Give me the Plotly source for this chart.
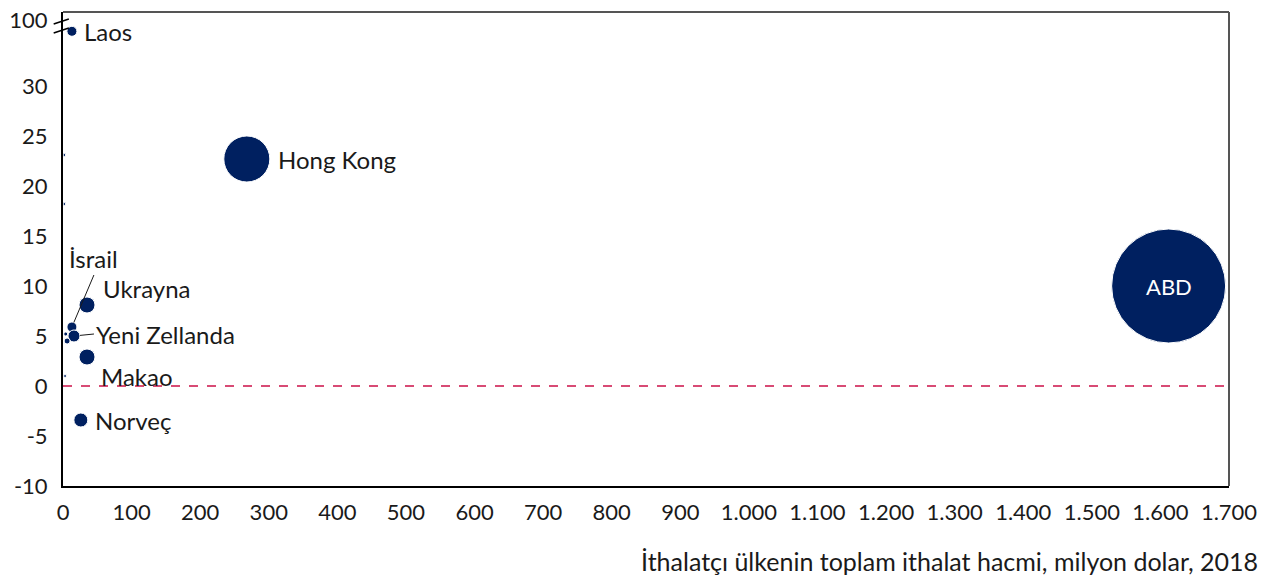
import plotly.graph_objects as go

# Ülke verileri (ithalat hacmi milyon $, büyüme %, balon değeri)
ulkeler = ["ABD", "Hong Kong", "Laos", "Ukrayna", "Makao", "Norveç", "İsrail",
           "Yeni Zellanda", "", "", "", "", "", "", ""]
ithalat = [1612, 268, 13, 35, 35, 26, 13, 16, 6, 4, 3, 2, 2, 1, 1]
degisim = [10.0, 22.7, 88.0, 8.1, 2.9, -3.4, 5.9, 5.0, 4.5, 5.2, 1.0, 23.1, 18.2, 30.0, -7.6]
balon = [325, 53, 2.5, 6.4, 6.4, 4.9, 2.5, 3.6, 0.9, 0.4, 0.22, 0.2, 0.2, 0.0, 0.0]

x_ticks = list(range(0, 1800, 100))
y_ticks = [-10, -5, 0, 5, 10, 15, 20, 25, 30, 100]

# y ekseni 30'dan sonra kırılıyor: 30-100 arası sıkıştırılıyor
KIRIK = 30
USTE = 6.6


def kir(v):
    return v if v <= KIRIK else KIRIK + (v - KIRIK) * USTE / (100 - KIRIK)


LACIVERT = "#002060"
FONT = "Lato, 'Open Sans', sans-serif"
YAZI = "#1a1a1a"

y_goster = [kir(v) for v in degisim]
sizeref = 2 * max(balon) / 114 ** 2

fig = go.Figure()
fig.add_trace(go.Scatter(
    x=ithalat, y=y_goster, mode="markers",
    marker=dict(size=balon, sizemode="area", sizeref=sizeref, sizemin=0, opacity=1,
                color=LACIVERT, line=dict(color="white", width=1)),
    hoverinfo="skip", showlegend=False, cliponaxis=False,
))

# sıfır çizgisi
fig.add_shape(type="line", xref="paper", x0=0, x1=1, yref="y", y0=0, y1=0,
              line=dict(color="#cc1148", width=1.6, dash="dash"))
# üst ve sağ çerçeve
fig.add_shape(type="line", xref="paper", x0=0, x1=1, yref="paper", y0=1, y1=1,
              line=dict(color="#555555", width=2))
fig.add_shape(type="line", xref="paper", x0=1, x1=1, yref="paper", y0=0, y1=1,
              line=dict(color="#555555", width=2))
# eksen kırığı işareti
for dy in (0, 0.9):
    fig.add_shape(type="line", xref="paper", yref="y",
                  x0=-0.008, x1=0.005, y0=35.3 + dy, y1=35.8 + dy,
                  line=dict(color="black", width=1.5))

lbl = dict(family=FONT, size=24, color=YAZI)


def etiket(i, xshift=0, yshift=0, **kw):
    fig.add_annotation(x=ithalat[i], y=y_goster[i], text=ulkeler[i], showarrow=False,
                       xanchor=kw.pop("xanchor", "left"), yanchor="middle",
                       xshift=xshift, yshift=yshift, font=kw.pop("font", lbl), **kw)


etiket(0, xanchor="center", font=dict(family=FONT, size=22, color="white"))
etiket(1, xshift=29)
etiket(2, xshift=10)
etiket(3, xshift=14, yshift=17)
etiket(4, xshift=12, yshift=-19)
etiket(5, xshift=12)

# İsrail ve Yeni Zellanda için kılavuz çizgili etiketler
fig.add_annotation(x=ithalat[6], y=y_goster[6], text="İsrail", showarrow=True,
                   arrowhead=0, arrowwidth=1, arrowcolor=YAZI, standoff=5,
                   ax=22, ay=-52, xanchor="center", yanchor="bottom", font=lbl)
fig.add_annotation(x=ithalat[7], y=y_goster[7], text="Yeni Zellanda", showarrow=True,
                   arrowhead=0, arrowwidth=1, arrowcolor=YAZI, standoff=6,
                   ax=20, ay=-2, xanchor="left", yanchor="middle", font=lbl)

fig.add_annotation(xref="paper", yref="paper", x=1, y=-0.158, xshift=31,
                   xanchor="right", yanchor="middle", showarrow=False,
                   text="İthalatçı ülkenin toplam ithalat hacmi, milyon dolar, 2018",
                   font=dict(family=FONT, size=25, color=YAZI))

# sayfa gövdesinin 8px boşluğu kenar boşluklarından düşülüyor
fig.update_layout(
    width=1273, height=581,
    margin=dict(l=55, r=52, t=4, b=103, autoexpand=False),
    plot_bgcolor="white", paper_bgcolor="white",
    separators=",.",
    font=dict(family=FONT, size=22, color=YAZI),
    xaxis=dict(range=[0, 1700], tickvals=x_ticks, tickformat=",d", showgrid=False,
               zeroline=False, showline=True, linecolor="black", linewidth=2,
               ticks="", ticklabelstandoff=6, automargin=False,
               ticklabeloverflow="allow"),
    yaxis=dict(range=[-10, 37.4], tickvals=[kir(v) for v in y_ticks],
               ticktext=[str(v) for v in y_ticks], showgrid=False, zeroline=False,
               showline=True, linecolor="black", linewidth=2, ticks="",
               ticklabelstandoff=9, automargin=False, ticklabeloverflow="allow"),
)

fig.write_html("out.html")
